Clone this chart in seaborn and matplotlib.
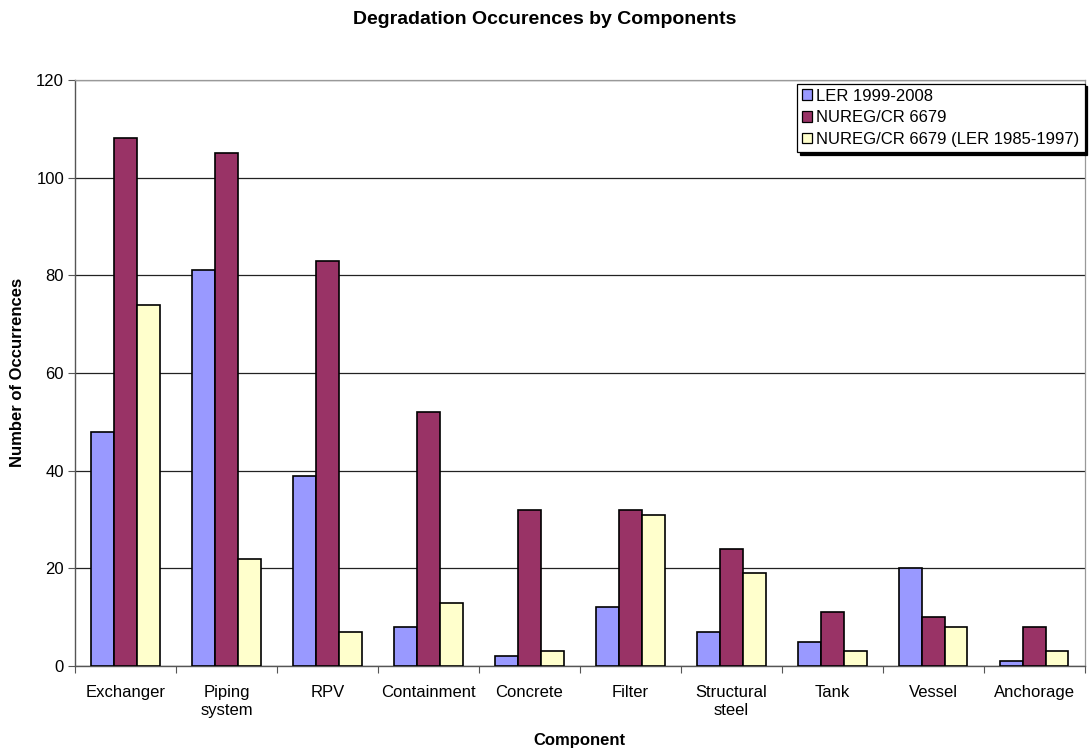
import matplotlib
matplotlib.use("Agg")
import matplotlib.pyplot as plt
import seaborn as sns
import pandas as pd
import numpy as np
from matplotlib.patches import Rectangle

components = ["Exchanger", "Piping\nsystem", "RPV", "Containment", "Concrete",
              "Filter", "Structural\nsteel", "Tank", "Vessel", "Anchorage"]
series_names = ["LER 1999-2008", "NUREG/CR 6679", "NUREG/CR 6679 (LER 1985-1997)"]
ler_1999_2008 = [48, 81, 39, 8, 2, 12, 7, 5, 20, 1]
nureg_6679 = [108, 105, 83, 52, 32, 32, 24, 11, 10, 8]
nureg_6679_ler = [74, 22, 7, 13, 3, 31, 19, 3, 8, 3]
colors = ["#9999FF", "#993366", "#FFFFCC"]
y_ticks = [0, 20, 40, 60, 80, 100, 120]

df = pd.DataFrame({
    "Component": components * 3,
    "Series": np.repeat(series_names, len(components)),
    "Count": ler_1999_2008 + nureg_6679 + nureg_6679_ler,
})

sns.set_style("white")
plt.rcParams["font.family"] = ["Liberation Sans", "DejaVu Sans"]
plt.rcParams["text.color"] = "black"
plt.rcParams["axes.labelcolor"] = "black"
plt.rcParams["xtick.color"] = "black"
plt.rcParams["ytick.color"] = "black"

fig = plt.figure(figsize=(10.9, 7.53), dpi=100)
ax = fig.add_axes([0.069, 0.1155, 0.926, 0.7785])

sns.barplot(data=df, x="Component", y="Count", hue="Series", palette=colors,
            saturation=1, edgecolor="black", linewidth=1.2, width=0.68, ax=ax,
            legend=False, zorder=3)

ax.set_ylim(0, 120)
ax.set_xlim(-0.5, len(components) - 0.5)
ax.set_yticks(y_ticks)
ax.yaxis.grid(True, color="#222222", linewidth=0.9, zorder=0)
ax.set_axisbelow(True)

for side in ["top", "right"]:
    ax.spines[side].set_color("#999999")
    ax.spines[side].set_linewidth(0.9)
for side in ["left", "bottom"]:
    ax.spines[side].set_color("#555555")
    ax.spines[side].set_linewidth(1.0)

ax.tick_params(axis="y", which="major", direction="out", length=5, width=0.8,
               color="#555555", labelsize=12, left=True, pad=3)
ax.tick_params(axis="x", which="major", length=0, labelsize=12, pad=14)
ax.set_xticks(np.arange(-0.5, len(components), 1.0), minor=True)
ax.tick_params(axis="x", which="minor", direction="out", length=5, width=0.8,
               color="#555555", bottom=True)

ax.set_xlabel("Component", fontsize=12, fontweight="bold", labelpad=11)
ax.set_ylabel("Number of Occurrences", fontsize=12, fontweight="bold", labelpad=8)
fig.suptitle("Degradation Occurences by Components", fontsize=14,
             fontweight="bold", y=0.985)

# legend with Excel-style drop shadow
handles = [Rectangle((0, 0), 1, 1, facecolor=c, edgecolor="black", linewidth=0.9)
           for c in colors]
leg = fig.legend(handles, series_names, loc="upper right",
                 bbox_to_anchor=(0.995, 0.889), fontsize=12, frameon=True,
                 fancybox=False, shadow={"color": "black", "alpha": 1.0},
                 edgecolor="black", handlelength=0.6, handleheight=0.6,
                 handletextpad=0.25, borderpad=0.3, labelspacing=0.4,
                 borderaxespad=0)
leg.get_frame().set_linewidth(0.9)

fig.savefig("out.png", dpi=100)
